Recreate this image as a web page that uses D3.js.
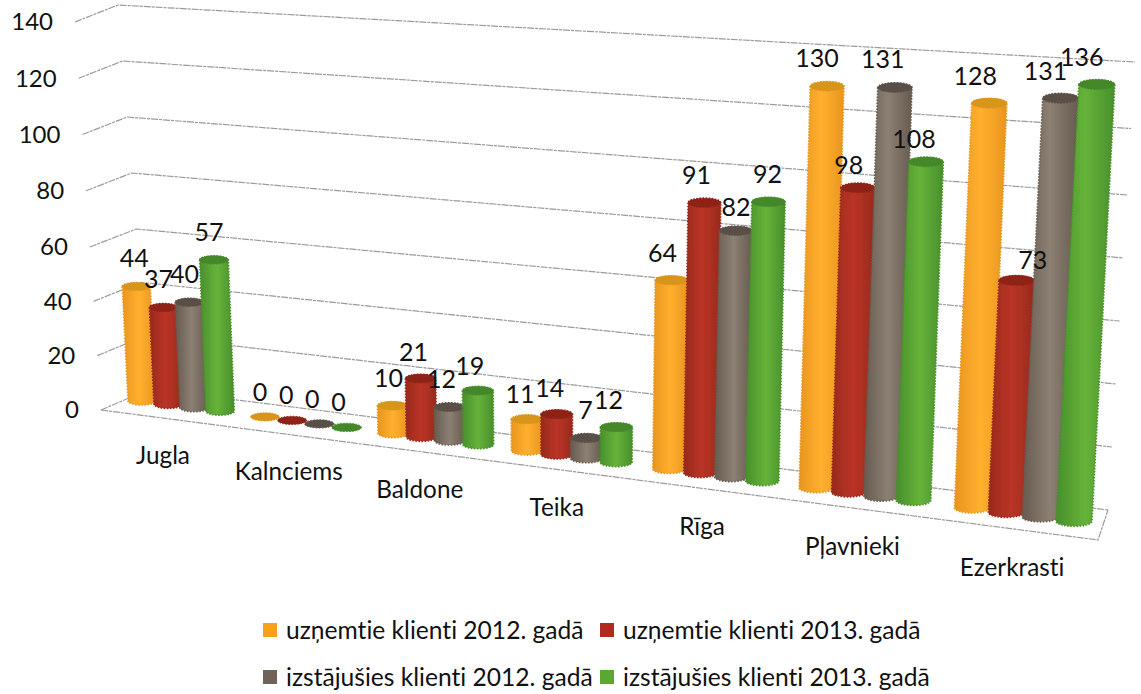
<!DOCTYPE html>
<html>
<head>
<meta charset="utf-8">
<style>
  html, body { margin: 0; padding: 0; background: #fff; }
  text { font-family: Lato, "Open Sans", sans-serif; fill: #111; font-variant-ligatures: none; }
</style>
<script src="https://cdn.jsdelivr.net/npm/d3@7"></script>
</head>
<body>
<div id="chart"></div>
<script>
const categories = ['Jugla', 'Kalnciems', 'Baldone', 'Teika', 'Rīga', 'Pļavnieki', 'Ezerkrasti'];
const seriesNames = [
  'uzņemtie klienti 2012. gadā',
  'uzņemtie klienti 2013. gadā',
  'izstājušies klienti 2012. gadā',
  'izstājušies klienti 2013. gadā'
];
const accepted2012 = [44, 0, 10, 11, 64, 130, 128];
const accepted2013 = [37, 0, 21, 14, 91, 98, 73];
const left2012 = [40, 0, 12, 7, 82, 131, 131];
const left2013 = [57, 0, 19, 12, 92, 108, 136];
const valueTicks = d3.range(0, 141, 20);

const seriesValues = [accepted2012, accepted2013, left2012, left2013];

// body gradient [edge, middle, edge], then the darker lid colour
const seriesColors = [
  { edge: '#e8951f', mid: '#ffb02e', lid: '#d8951c', key: '#f9a11b' },
  { edge: '#982a1c', mid: '#bb3426', lid: '#8e2216', key: '#b02a1d' },
  { edge: '#665b50', mid: '#8c8073', lid: '#5a4f46', key: '#6f6457' },
  { edge: '#488f2c', mid: '#66b33a', lid: '#45882b', key: '#5aa832' }
];

// hand placed data labels in the original, offset from the top of each bar
const labelDx = [
  [-2, -5, -5, -5],
  [-5, -6, -7, -8],
  [-4, -7, -8, -8],
  [-7, -7, -1, -8],
  [-9, -8, 0, -1],
  [-10, -9, -12, -12],
  [-14, 16, -15, -15]
];
const labelDy = [
  [-28, -28, -28, -28],
  [-25, -25, -25, -25],
  [-27, -26, -28, -25],
  [-25, -26, -28, -27],
  [-27, -27, -24, -28],
  [-28, -23, -28, -23],
  [-27, -20, -27, -27]
];

const width = 1141;
const height = 694;

const svg = d3.select('#chart').append('svg')
  .attr('width', width)
  .attr('height', height)
  .attr('viewBox', `0 0 ${width} ${height}`)
  .style('display', 'block');

// Wall and floor corners, as scales of the value axis
const frontLeftX = d3.scaleLinear().domain([0, 140]).range([101, 75]);
const frontLeftY = d3.scaleLinear().domain([0, 60, 140]).range([410, 247, 22]);
const backLeftX = d3.scaleLinear().domain([0, 140]).range([150, 118]);
const backLeftY = d3.scaleLinear().domain([0, 60, 140]).range([389, 229, 5]);
const backRightX = d3.scaleLinear().domain([0, 140]).range([1108, 1135]);
const backRightY = d3.scaleLinear().domain([0, 100, 140]).range([510, 195, 62]);

// Floor position of the first bar in each group
const groupX = d3.scaleLinear()
  .domain(d3.range(categories.length))
  .range([142, 265, 393, 527, 669, 816, 972]);

// Things that grow towards the viewer, against floor x
const barStep = d3.scaleLinear().domain([142, 972]).range([26, 34]);
const barWidth = d3.scaleLinear().domain([142, 1077]).range([28, 36]);
const barRy = d3.scaleLinear().domain([142, 1077]).range([4, 5]);
const unitHeight = d3.scaleLinear().domain([142, 700, 816, 1072]).range([2.6, 2.97, 3.09, 3.21]);
const floorY = d3.scaleLinear().domain([142, 972]).range([405, 513]);
const leanPerUnit = d3.scaleLinear().domain([550, 972]).range([0, 0.135]);

const defs = svg.append('defs');
seriesColors.forEach((c, i) => {
  const grad = defs.append('linearGradient').attr('id', `bar${i}`);
  grad.append('stop').attr('offset', '0%').attr('stop-color', c.edge);
  grad.append('stop').attr('offset', '50%').attr('stop-color', c.mid);
  grad.append('stop').attr('offset', '100%').attr('stop-color', c.edge);
});
defs.append('filter').attr('id', 'soft')
  .append('feGaussianBlur').attr('stdDeviation', 0.45);

// Gridlines
const gridLayer = svg.append('g')
  .attr('fill', 'none')
  .attr('stroke', '#9a9a9a')
  .attr('stroke-width', 1.2)
  .attr('stroke-dasharray', '7 1 3 1');

valueTicks.forEach(v => {
  gridLayer.append('path').attr('d', d3.line()([
    [frontLeftX(v), frontLeftY(v)],
    [backLeftX(v), backLeftY(v)],
    [backRightX(v), backRightY(v)]
  ]));
});
gridLayer.append('path').attr('d', d3.line()([
  [frontLeftX(0), frontLeftY(0)],
  [1098, 540],
  [backRightX(0), backRightY(0)]
]));

// Value axis labels
svg.append('g').selectAll('text')
  .data(valueTicks)
  .join('text')
  .attr('x', d => frontLeftX(d) - 22)
  .attr('y', d => frontLeftY(d))
  .attr('dy', '0.35em')
  .attr('text-anchor', 'end')
  .attr('font-size', 24)
  .text(d => d);

// Flatten into one list of bars, in drawing order
const bars = [];
categories.forEach((cat, c) => {
  const x0 = groupX(c);
  seriesValues.forEach((vals, s) => {
    const x = x0 + barStep(x0) * s;
    const v = vals[c];
    const ry = barRy(x);
    const w = barWidth(x);
    const yb = floorY(x) - ry;
    bars.push({
      c, s, v, x, ry, w, yb,
      xt: x + leanPerUnit(x) * v,
      yt: yb - unitHeight(x) * v
    });
  });
});

const barLayer = svg.append('g').attr('filter', 'url(#soft)');

function bodyPath(d) {
  const r = d.w / 2;
  return `M${d.xt - r},${d.yt}L${d.x - r},${d.yb}` +
    `A${r},${d.ry} 0 0 0 ${d.x + r},${d.yb}` +
    `L${d.xt + r},${d.yt}A${r},${d.ry} 0 0 0 ${d.xt - r},${d.yt}Z`;
}

const barG = barLayer.selectAll('g').data(bars).join('g');

barG.filter(d => d.v > 0).append('path')
  .attr('d', bodyPath)
  .attr('fill', d => `url(#bar${d.s})`)
  .attr('stroke', d => seriesColors[d.s].edge)
  .attr('stroke-width', 1.6)
  .attr('stroke-dasharray', '1.5 1.5');

barG.append('ellipse')
  .attr('cx', d => d.xt)
  .attr('cy', d => d.yt)
  .attr('rx', d => d.w / 2)
  .attr('ry', d => d.ry)
  .attr('fill', d => seriesColors[d.s].lid)
  .attr('stroke', d => seriesColors[d.s].lid)
  .attr('stroke-dasharray', '1.5 1.5');

// Data labels
svg.append('g').selectAll('text')
  .data(bars)
  .join('text')
  .attr('x', d => d.xt + labelDx[d.c][d.s])
  .attr('y', d => d.yt + labelDy[d.c][d.s])
  .attr('dy', '0.35em')
  .attr('text-anchor', 'middle')
  .attr('font-size', 25)
  .text(d => d.v);

// Category labels sit on a line parallel to the front floor edge
const labelShift = d3.scaleLinear().domain([142, 972]).range([-18, -11]);
const labelY = d3.scaleLinear().domain([163, 1013]).range([455, 568]);

svg.append('g').selectAll('text')
  .data(categories)
  .join('text')
  .attr('x', (d, i) => {
    const x0 = groupX(i);
    return x0 + barStep(x0) * 1.5 + labelShift(x0);
  })
  .attr('y', (d, i) => {
    const x0 = groupX(i);
    return labelY(x0 + barStep(x0) * 1.5 + labelShift(x0));
  })
  .attr('dy', '0.35em')
  .attr('text-anchor', 'middle')
  .attr('font-size', 24.3)
  .text(d => d);

// Legend, two rows of two
const legendCol = d3.scalePoint().domain([0, 1]).range([263, 600]);
const legendRow = d3.scalePoint().domain([0, 1]).range([630, 677]);

const legend = svg.append('g').selectAll('g')
  .data(seriesNames)
  .join('g')
  .attr('transform', (d, i) => `translate(${legendCol(i % 2)},${legendRow(Math.floor(i / 2))})`);

legend.append('rect')
  .attr('y', -7)
  .attr('width', 14)
  .attr('height', 14)
  .attr('fill', (d, i) => seriesColors[i].key);

legend.append('text')
  .attr('x', 23)
  .attr('dy', '0.35em')
  .attr('font-size', 24.6)
  .text(d => d);
</script>
</body>
</html>
